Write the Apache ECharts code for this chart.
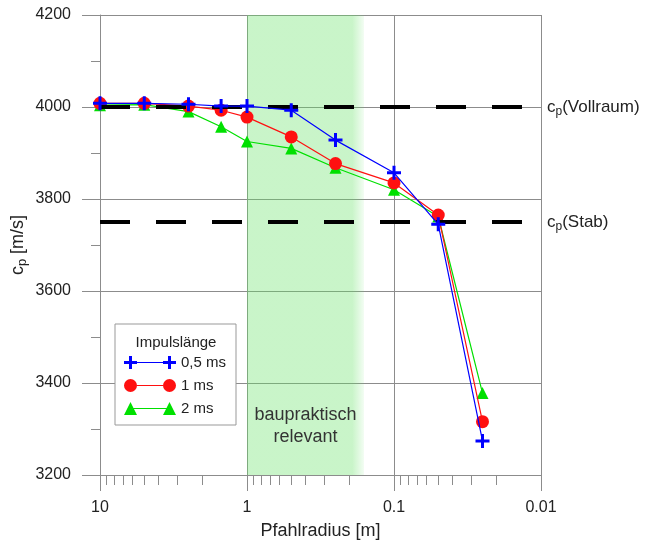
<!DOCTYPE html>
<html><head><meta charset="utf-8">
<script src="https://cdn.jsdelivr.net/npm/echarts@6/dist/echarts.min.js"></script>
<style>html,body{margin:0;padding:0;background:#fff}#c{width:650px;height:542px}</style>
</head><body><div id="c"></div>
<script>
// ---- data ----
const radius = [10, 5, 2.5, 1.5, 1, 0.5, 0.25, 0.1, 0.05, 0.025];
const cp05 = [4008, 4008, 4006, 4002, 4002, 3993, 3928, 3857, 3745, 3274];
const cp1  = [4008, 4008, 4002, 3993, 3978, 3935, 3877, 3835, 3765, 3316];
const cp2  = [4004, 4005, 3990, 3957, 3925, 3910, 3868, 3820, 3762, 3378];
const seriesNames = ['0,5 ms', '1 ms', '2 ms'];
const refValues = [4000, 3750];
const refNames = ['Vollraum', 'Stab'];
const bandRange = [1, 0.16];
const bandText = 'baupraktisch\nrelevant';
const xMajorTicks = [10, 1, 0.1, 0.01];
const xMinorTicks = [9, 8, 7, 6, 5, 4, 3, 2, 0.9, 0.8, 0.7, 0.6, 0.5, 0.4, 0.3, 0.2,
                     0.09, 0.08, 0.07, 0.06, 0.05, 0.04, 0.03, 0.02];
const xMin = 0.01, xMax = 10;
const yMin = 3200, yMax = 4200, yStep = 200;
const legendTitle = 'Impulslänge';
const xName = 'Pfahlradius [m]';

// ---- style ----
const FONT = 'Liberation Sans';
const gridColor = '#8c8c8c';
const blue = '#0000ff', red = '#ff1010', green = '#00e000';
const fmt = v => String(Number((+v).toPrecision(6)));
const plusPath = 'path://M5.5 0h3v5.5h5.5v3h-5.5v5.5h-3v-5.5h-5.5v-3h5.5z';
const legPlus = 'path://M5 0h3v5h5v3h-5v5h-3v-5h-5v-3h5z M13 5.9h26v1.2h-26z M44 0h3v5h5v3h-5v5h-3v-5h-5v-3h5z';
const legCircle = 'path://M0 6.5A6.5 6.5 0 1 1 13 6.5A6.5 6.5 0 1 1 0 6.5z M13 5.9h26v1.2h-26z M39 6.5A6.5 6.5 0 1 1 52 6.5A6.5 6.5 0 1 1 39 6.5z';
const legTri = 'path://M6.5 0L13 13H0z M6.5 5.9h39v1.2h-39z M45.5 0L52 13H39z';

const chart = echarts.init(document.getElementById('c'), null, {renderer: 'canvas'});
const mk = (vals) => radius.map((r, i) => [r, vals[i]]);

const option = {
  animation: false,
  backgroundColor: '#fff',
  textStyle: {fontFamily: FONT},
  grid: {left: 100, right: 109, top: 15, bottom: 67, containLabel: false, outerBoundsMode: 'none'},
  xAxis: [{
    type: 'log', min: xMin, max: xMax, inverse: true, position: 'bottom',
    name: xName, nameLocation: 'middle', nameGap: 47, nameMoveOverlap: false,
    nameTextStyle: {fontSize: 18, color: '#222', fontFamily: FONT},
    axisLine: {show: true, lineStyle: {color: gridColor, width: 1}},
    axisTick: {show: true, length: 16, inside: false, customValues: xMajorTicks, lineStyle: {color: gridColor}},
    axisLabel: {show: true, customValues: xMajorTicks, margin: 25, fontSize: 16, color: '#222', fontFamily: FONT, formatter: fmt},
    splitLine: {show: true, lineStyle: {color: gridColor, width: 1}},
    minorTick: {show: false}, minorSplitLine: {show: false}
  }, {
    type: 'log', min: xMin, max: xMax, inverse: true, position: 'bottom',
    axisLine: {show: false},
    axisTick: {show: true, length: 10, inside: false, customValues: xMinorTicks, lineStyle: {color: gridColor}},
    axisLabel: {show: false},
    splitLine: {show: false}
  }],
  yAxis: {
    type: 'value', min: yMin, max: yMax, interval: yStep,
    name: '{c|c}{s|p}{t| [m/s]}', nameLocation: 'middle', nameRotate: 90, nameGap: 71, nameMoveOverlap: false,
    nameTextStyle: {
      color: '#222', fontFamily: FONT,
      rich: {
        c: {fontSize: 18, fontFamily: FONT, color: '#222', lineHeight: 22},
        s: {fontSize: 13, fontFamily: FONT, color: '#222', verticalAlign: 'bottom', lineHeight: 14},
        t: {fontSize: 18, fontFamily: FONT, color: '#222', lineHeight: 22}
      }
    },
    axisLine: {show: true, lineStyle: {color: gridColor, width: 1}},
    axisTick: {show: true, length: 18, inside: false, lineStyle: {color: gridColor}},
    minorTick: {show: true, splitNumber: 2, length: 9, lineStyle: {color: gridColor}},
    axisLabel: {margin: 29, fontSize: 16, color: '#222', fontFamily: FONT, formatter: v => String(v)},
    splitLine: {show: true, lineStyle: {color: gridColor, width: 1}}
  },
  legend: {
    orient: 'vertical', left: 115, top: 324,
    padding: [31, 10, 9, 9],
    itemWidth: 52, itemHeight: 13, itemGap: 8,
    backgroundColor: '#fff', borderColor: '#999', borderWidth: 1,
    textStyle: {fontSize: 15, color: '#222', fontFamily: FONT},
    symbolKeepAspect: true,
    selectedMode: false,
    data: [
      {name: seriesNames[0], icon: legPlus},
      {name: seriesNames[1], icon: legCircle},
      {name: seriesNames[2], icon: legTri}
    ]
  },
  graphic: [{
    type: 'text', x: 176, y: 343, z: 100,
    style: {text: legendTitle, fontSize: 15, fontFamily: FONT, fill: '#222', textAlign: 'center', textVerticalAlign: 'middle'}
  }],
  series: [{
    type: 'line', name: '__ref', data: [], xAxisIndex: 0, z: 1, silent: true,
    markArea: {
      silent: true,
      itemStyle: {
        color: {type: 'linear', x: 0, y: 0, x2: 1, y2: 0, colorStops: [
          {offset: 0, color: 'rgba(100,225,100,0.35)'},
          {offset: 0.9, color: 'rgba(100,225,100,0.35)'},
          {offset: 1, color: 'rgba(100,225,100,0.08)'}
        ]}
      },
      label: {show: true, position: 'insideBottom', distance: 27, formatter: bandText,
        fontSize: 18, lineHeight: 22, color: '#333', fontFamily: FONT, align: 'center'},
      data: [[{xAxis: bandRange[0]}, {xAxis: bandRange[1]}]]
    },
    markLine: {
      silent: true, symbol: ['none', 'none'],
      lineStyle: {color: '#000', width: 4, type: [30, 26]},
      label: {
        show: true, position: 'end', distance: 6,
        formatter: p => '{c|c}{s|p}{t|(' + p.name + ')}',
        rich: {
          c: {fontSize: 17, fontFamily: FONT, color: '#222', lineHeight: 22},
          s: {fontSize: 12, fontFamily: FONT, color: '#222', verticalAlign: 'bottom', lineHeight: 13},
          t: {fontSize: 17, fontFamily: FONT, color: '#222', lineHeight: 22}
        }
      },
      data: refValues.map((v, i) => [{name: refNames[i], coord: [xMax, v]}, {coord: [xMin, v]}])
    }
  }, {
    type: 'line', name: seriesNames[2], data: mk(cp2), z: 3,
    symbol: 'triangle', symbolSize: 12,
    lineStyle: {color: green, width: 1.2}, itemStyle: {color: green}
  }, {
    type: 'line', name: seriesNames[1], data: mk(cp1), z: 4,
    symbol: 'circle', symbolSize: 13,
    lineStyle: {color: red, width: 1.2}, itemStyle: {color: red}
  }, {
    type: 'line', name: seriesNames[0], data: mk(cp05), z: 5,
    symbol: plusPath, symbolSize: 14,
    lineStyle: {color: blue, width: 1.2}, itemStyle: {color: blue}
  }]
};
chart.setOption(option);
</script>
</body></html>
